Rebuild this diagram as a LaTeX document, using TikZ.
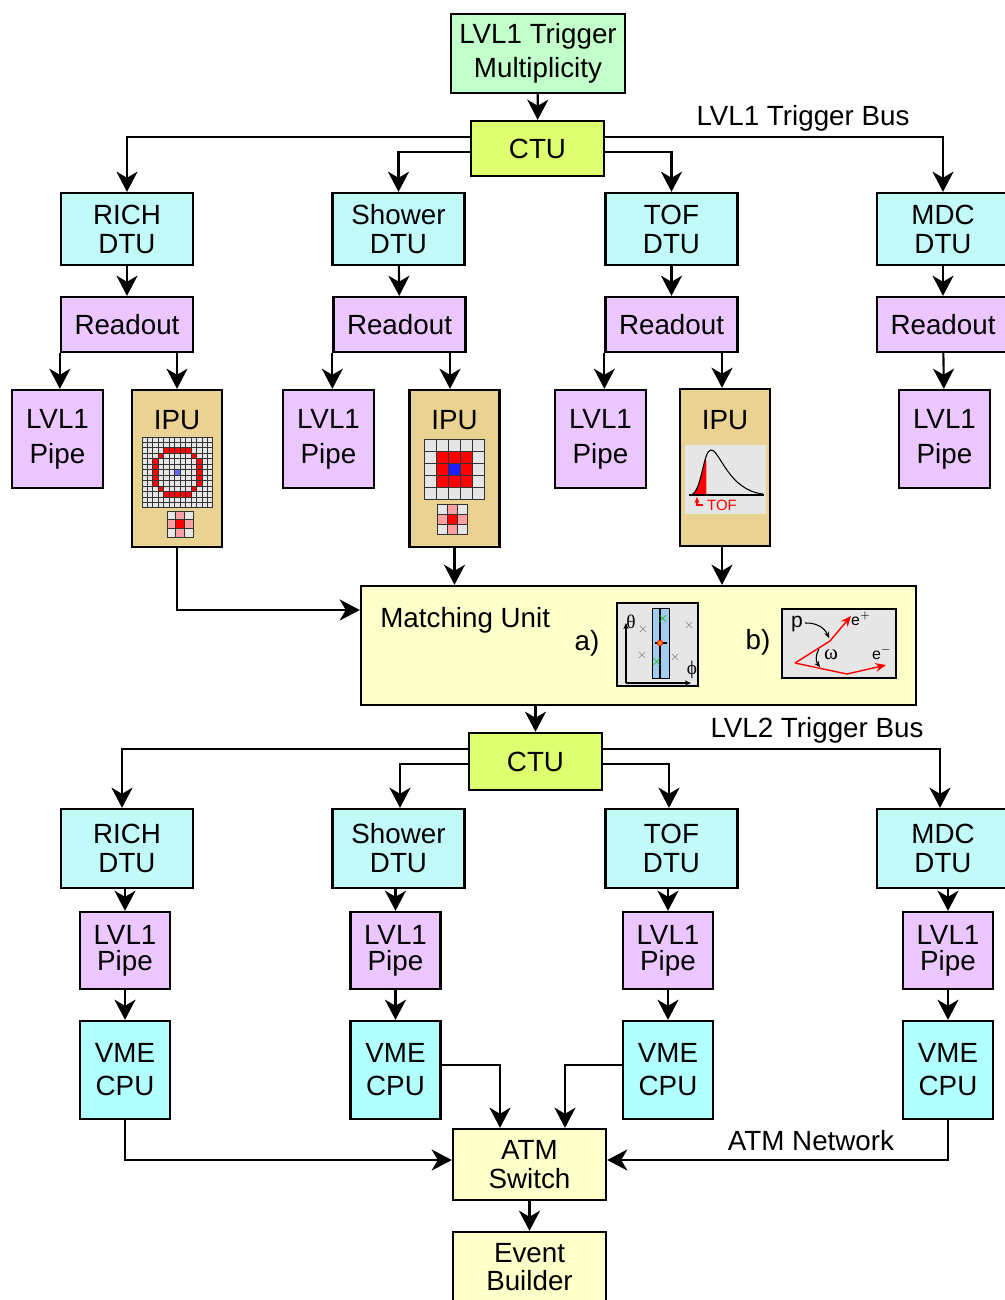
\documentclass[tikz,border=0pt]{standalone}
\usepackage{fontspec}
\setmainfont{Liberation Sans}
\newfontfamily\greekfont{Liberation Serif}
\usepackage{tikz}
\usetikzlibrary{arrows.meta}

\definecolor{multgreen}{RGB}{194,255,202}
\definecolor{ctugreen}{RGB}{222,255,112}
\definecolor{dtucyan}{RGB}{194,250,250}
\definecolor{cpucyan}{RGB}{178,255,255}
\definecolor{pipeviolet}{RGB}{236,198,255}
\definecolor{iputan}{RGB}{234,210,146}
\definecolor{unityellow}{RGB}{255,255,202}
\definecolor{cellgray}{RGB}{230,230,230}
\definecolor{cellpink}{RGB}{255,160,160}
\definecolor{cellblue}{RGB}{30,30,255}
\definecolor{bandblue}{RGB}{160,205,240}

\begin{document}
\begin{tikzpicture}[x=0.2mm, y=-0.2mm, >={Stealth[length=11.5pt,width=12pt,inset=3.5pt]}]

  %Styles for picture
  \tikzset
  {
  box/.style={draw, line width=1.3pt, align=center, inner sep=0pt, font=\fontsize{15.8}{17}\selectfont},
  multbox/.style={box, fill=multgreen, minimum width=3.48cm, minimum height=1.58cm, font=\fontsize{15.8}{19}\selectfont},
  ctubox/.style={box, fill=ctugreen, minimum width=2.66cm, minimum height=1.1cm},
  dtubox/.style={box, fill=dtucyan, minimum width=2.64cm, minimum height=1.44cm, font=\fontsize{15.8}{16.5}\selectfont},
  readbox/.style={box, fill=pipeviolet, minimum width=2.64cm, minimum height=1.1cm},
  pipebox/.style={box, fill=pipeviolet, minimum width=1.82cm, minimum height=1.96cm, font=\fontsize{15.8}{20}\selectfont},
  ipubox/.style={box, fill=iputan, minimum width=1.8cm, minimum height=3.14cm},
  unitbox/.style={box, fill=unityellow},
  cpubox/.style={box, fill=cpucyan, minimum width=1.8cm, minimum height=1.96cm, font=\fontsize{15.8}{18.7}\selectfont},
  label/.style={font=\fontsize{15.8}{17}\selectfont, inner sep=0pt},
  wire/.style={line width=1.2pt},
  cell/.style={draw=black!80, line width=0.5pt},
  tinytip/.style={-{Stealth[length=3.5pt,width=3pt]}},
  }

  \useasboundingbox (0,0) rectangle (1005,1300);

  % Level 1 nodes
  \node[multbox] (mult) at (538,53.5) {LVL1 Trigger\\Multiplicity};
  \node[ctubox] (ctuA) at (537.5,148.5) {CTU};
  \node[label] (busA) at (803,118) {LVL1 Trigger Bus};

  \node[dtubox] (richA) at (127,229) {RICH\\DTU};
  \node[dtubox] (showA) at (398.5,229) {Shower\\DTU};
  \node[dtubox] (tofA) at (671.5,229) {TOF\\DTU};
  \node[dtubox] (mdcA) at (943,229) {MDC\\DTU};

  \node[readbox] (richR) at (127,324.5) {Readout};
  \node[readbox] (showR) at (399.5,324.5) {Readout};
  \node[readbox] (tofR) at (671.5,324.5) {Readout};
  \node[readbox] (mdcR) at (943,324.5) {Readout};

  \node[pipebox] (richP) at (57.5,439) {LVL1\\Pipe};
  \node[pipebox] (showP) at (328.5,439) {LVL1\\Pipe};
  \node[pipebox] (tofP) at (600.5,439) {LVL1\\Pipe};
  \node[pipebox] (mdcP) at (944.5,439) {LVL1\\Pipe};

  \node[ipubox] (richI) at (177,468.5) {};
  \node[ipubox] (showI) at (454.5,468.5) {};
  \node[ipubox] (tofI) at (725,467.5) {};
  \node[label] (richIT) at (177,420) {IPU};
  \node[label] (showIT) at (454.5,420) {IPU};
  \node[label] (tofIT) at (725,420) {IPU};

  % Matching unit
  \node[unitbox, minimum width=11.1cm, minimum height=2.38cm] (match) at (638.5,645.5) {};
  \node[label, anchor=west] (matchT) at (380,620) {Matching Unit};
  \node[label] (matchA) at (587,643) {a)};
  \node[label] (matchB) at (758,642) {b)};

  % Level 2 nodes
  \node[ctubox, minimum height=1.14cm] (ctuB) at (535.5,761.5) {CTU};
  \node[label] (busB) at (817,730) {LVL2 Trigger Bus};

  \node[dtubox, minimum height=1.58cm] (richB) at (127,848.5) {RICH\\DTU};
  \node[dtubox, minimum height=1.58cm] (showB) at (398.5,848.5) {Shower\\DTU};
  \node[dtubox, minimum height=1.58cm] (tofB) at (671.5,848.5) {TOF\\DTU};
  \node[dtubox, minimum height=1.58cm] (mdcB) at (943,848.5) {MDC\\DTU};

  \node[pipebox, minimum width=1.8cm, minimum height=1.54cm, font=\fontsize{15.8}{15}\selectfont] (richQ) at (125,950.5) {LVL1\\Pipe};
  \node[pipebox, minimum width=1.8cm, minimum height=1.54cm, font=\fontsize{15.8}{15}\selectfont] (showQ) at (395.5,950.5) {LVL1\\Pipe};
  \node[pipebox, minimum width=1.8cm, minimum height=1.54cm, font=\fontsize{15.8}{15}\selectfont] (tofQ) at (668,950.5) {LVL1\\Pipe};
  \node[pipebox, minimum width=1.8cm, minimum height=1.54cm, font=\fontsize{15.8}{15}\selectfont] (mdcQ) at (948,950.5) {LVL1\\Pipe};

  \node[cpubox] (richC) at (125,1070) {VME\\CPU};
  \node[cpubox] (showC) at (395.5,1070) {VME\\CPU};
  \node[cpubox] (tofC) at (668,1070) {VME\\CPU};
  \node[cpubox] (mdcC) at (948,1070) {VME\\CPU};

  \node[unitbox, minimum width=3.06cm, minimum height=1.42cm, font=\fontsize{15.8}{16.5}\selectfont] (atm) at (529.5,1164.5) {ATM\\Switch};
  \node[label] (atmnet) at (811,1141) {ATM Network};
  \node[unitbox, minimum width=3.06cm, minimum height=1.42cm, font=\fontsize{15.8}{16}\selectfont] (event) at (529.5,1267.5) {Event\\Builder};

  % Edges, level 1
  \draw[->, wire] (mult) -- (ctuA);
  \draw[->, wire] (ctuA.west |- 0,137) -| (richA);
  \draw[->, wire] (ctuA.west |- 0,152) -| (showA);
  \draw[->, wire] (ctuA.east |- 0,152) -| (tofA);
  \draw[->, wire] (ctuA.east |- 0,137) -| (mdcA);
  \foreach \d in {rich,show,tof,mdc}
    \draw[->, wire] (\d A) -- (\d R);
  \draw[->, wire] (richR.south west) -- (richR.south west |- richP.north);
  \draw[->, wire] (showR.south west) -- (showR.south west |- showP.north);
  \draw[->, wire] (tofR.south west) -- (tofR.south west |- tofP.north);
  \draw[->, wire] (mdcR) -- (mdcP);
  \draw[->, wire] (richI.north |- richR.south) -- (richI);
  \draw[->, wire] (450,0 |- showR.south) -- (450,0 |- showI.north);
  \draw[->, wire] (722,0 |- tofR.south) -- (722,0 |- tofI.north);

  % IPU outputs into matching unit
  \draw[->, wire] (richI) |- (match.west |- 0,610);
  \draw[->, wire] (showI) -- (showI |- match.north);
  \draw[->, wire] (722,0 |- tofI.south) -- (722,0 |- match.north);
  \draw[->, wire] (match.south -| ctuB) -- (ctuB);

  % Edges, level 2
  \draw[->, wire] (ctuB.west |- 0,749) -| (122,0 |- richB.north);
  \draw[->, wire] (ctuB.west |- 0,764) -| (400,0 |- showB.north);
  \draw[->, wire] (ctuB.east |- 0,764) -| (669,0 |- tofB.north);
  \draw[->, wire] (ctuB.east |- 0,749) -| (940,0 |- mdcB.north);
  \foreach \d in {rich,show,tof,mdc}
  {
    \draw[->, wire] (\d Q |- \d B.south) -- (\d Q);
    \draw[->, wire] (\d Q) -- (\d C);
  }
  \draw[->, wire] (richC) |- (atm.west |- 0,1160);
  \draw[->, wire] (showC.east |- 0,1065) -| (atm.north -| 500,0);
  \draw[->, wire] (tofC.west |- 0,1065) -| (atm.north -| 565,0);
  \draw[->, wire] (mdcC) |- (atm.east |- 0,1160);
  \draw[->, wire] (atm) -- (event);

  % RICH IPU: ring image on the pad plane
  \begin{scope}[shift={(142,437)}, x=1.09mm, y=-1.09mm]
    \foreach \i in {0,...,12}
      \foreach \j in {0,...,12}
        \draw[cell, fill=cellgray] (\i,\j) rectangle ++(1,1);
    \foreach \dx/\dy in {-2/-4,-1/-4,0/-4,1/-4,2/-4,-3/-3,3/-3,-4/-2,4/-2,-4/-1,4/-1,
                         -4/0,4/0,-4/1,4/1,-4/2,4/2,-3/3,3/3,-2/4,-1/4,0/4,1/4,2/4}
      \draw[cell, fill=red] ({6+\dx},{6+\dy}) rectangle ++(1,1);
    \draw[cell, fill=blue!60] (6,6) rectangle ++(1,1);
  \end{scope}
  \begin{scope}[shift={(167,511)}, x=1.74mm, y=-1.74mm]
    \foreach \i/\j/\c in {0/0/cellgray,1/0/cellpink,2/0/cellgray,0/1/cellpink,1/1/red,
                          2/1/cellpink,0/2/cellgray,1/2/cellpink,2/2/cellgray}
      \draw[cell, fill=\c] (\i,\j) rectangle ++(1,1);
  \end{scope}

  % Shower IPU: cluster
  \begin{scope}[shift={(424,439)}, x=2.4mm, y=-2.4mm]
    \foreach \i in {0,...,4}
      \foreach \j in {0,...,4}
        \draw[cell, fill=cellgray] (\i,\j) rectangle ++(1,1);
    \foreach \i in {1,2,3}
      \foreach \j in {1,2,3}
        \draw[cell, fill=red] (\i,\j) rectangle ++(1,1);
    \draw[cell, fill=cellblue] (2,2) rectangle ++(1,1);
  \end{scope}
  \begin{scope}[shift={(437,504)}, x=2mm, y=-2mm]
    \foreach \i/\j/\c in {0/0/cellgray,1/0/cellpink,2/0/cellgray,0/1/cellpink,1/1/red,
                          2/1/cellpink,0/2/cellgray,1/2/cellpink,2/2/cellgray}
      \draw[cell, fill=\c] (\i,\j) rectangle ++(1,1);
  \end{scope}

  % TOF IPU: time of flight spectrum
  \fill[cellgray] (685,445) rectangle (766,514);
  \begin{scope}
    \clip (685,445) rectangle (706,496);
    \fill[red] (691,495) .. controls (702,492) and (703,450) .. (711,450)
      .. controls (720,450) and (728,490) .. (763,494) -- cycle;
  \end{scope}
  \draw[red!40, line width=0.5pt] (706,461) -- (706,495);
  \draw[line width=0.6pt] (691,495) .. controls (702,492) and (703,450) .. (711,450)
    .. controls (720,450) and (728,490) .. (763,494);
  \draw[line width=0.6pt] (689,495) -- (764,495);
  \draw[red, line width=0.7pt, tinytip] (703,505) -| (697,497);
  \node[text=red, font=\fontsize{8.5}{9}\selectfont, inner sep=0pt] (tofmark) at (722,505) {TOF};

  % Matching unit a): hits in theta/phi
  \draw[line width=0.6pt, fill=cellgray] (617,603) rectangle (698,686);
  \draw[line width=0.5pt, fill=bandblue] (652,608) rectangle (669,678);
  \draw[line width=0.8pt] (660,608) -- (660,678);
  \draw[line width=0.8pt] (655,643) -- (667,643);
  \foreach \x/\y in {643/629,689/625,642/655,675/657}
    \node[text=black!55, font=\fontsize{7}{7}\selectfont, inner sep=0pt] at (\x,\y) {$\times$};
  \foreach \x/\y in {663/619,657/662}
    \node[text=green!75!black, font=\fontsize{8}{8}\selectfont, inner sep=0pt] at (\x,\y) {$\times$};
  \fill[orange, draw=red, line width=0.4pt] (660,643) circle (0.55mm);
  \draw[line width=0.6pt, tinytip] (626,683) -- (626,623);
  \draw[line width=0.6pt, tinytip] (626,683) -- (691,683);
  \node[font=\greekfont\fontsize{11}{11}\selectfont, inner sep=0pt] (theta) at (631,622) {θ};
  \node[font=\greekfont\fontsize{11}{11}\selectfont, inner sep=0pt] (phi) at (692,670) {ϕ};

  % Matching unit b): pair opening angle
  \draw[line width=0.8pt, fill=cellgray] (782,609) rectangle (896,678);
  \draw[red, line width=0.8pt, -{Stealth[length=6pt,width=5pt]}] (795,663) -- (830,641) -- (851,616);
  \draw[red, line width=0.8pt, -{Stealth[length=6pt,width=5pt]}] (795,663) -- (847,674) -- (886,665);
  \node[font=\fontsize{12}{12}\selectfont, inner sep=0pt] (pmom) at (797,624) {p};
  \draw[line width=0.6pt, tinytip] (805,623) to[bend left=35] (829,638);
  \node[font=\fontsize{9}{9}\selectfont, inner sep=0pt] (epos) at (861,619) {e$^{+}$};
  \node[font=\fontsize{9}{9}\selectfont, inner sep=0pt] (eneg) at (882,653) {e$^{-}$};
  \node[font=\greekfont\fontsize{12}{12}\selectfont, inner sep=0pt] (omega) at (831,655) {ω};
  \draw[line width=0.6pt, tinytip] (819,649) to[bend right=35] (820,667);

\end{tikzpicture}
\end{document}
